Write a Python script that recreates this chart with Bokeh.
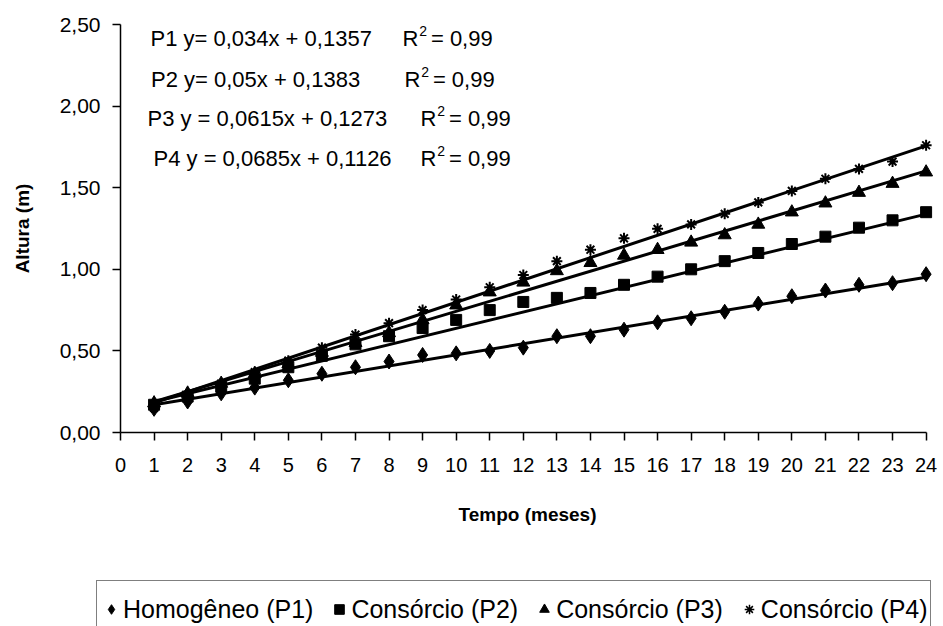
from bokeh.plotting import figure
from bokeh.layouts import column
from bokeh.models import Range1d, FixedTicker, Legend, LegendItem
from bokeh.core.properties import value
from bokeh.embed import file_html
from bokeh.resources import INLINE

# ---------------- data ----------------
months = list(range(1, 25))
p1_homogeneo = [0.145, 0.19, 0.24, 0.275, 0.32, 0.36, 0.40, 0.435, 0.475, 0.485, 0.50, 0.52,
                0.59, 0.59, 0.63, 0.675, 0.70, 0.74, 0.79, 0.835, 0.87, 0.905, 0.915, 0.97]
p2_consorcio = [0.17, 0.22, 0.28, 0.33, 0.40, 0.47, 0.54, 0.59, 0.64, 0.69, 0.75, 0.80,
                0.825, 0.855, 0.905, 0.955, 1.00, 1.05, 1.10, 1.155, 1.20, 1.255, 1.30, 1.35]
p3_consorcio = [0.18, 0.24, 0.30, 0.36, 0.42, 0.49, 0.55, 0.61, 0.69, 0.78, 0.86, 0.92,
                0.99, 1.04, 1.085, 1.12, 1.165, 1.21, 1.275, 1.35, 1.405, 1.47, 1.525, 1.595]
p4_consorcio = [0.15, 0.23, 0.30, 0.37, 0.44, 0.52, 0.60, 0.67, 0.75, 0.815, 0.89, 0.965,
                1.05, 1.12, 1.19, 1.248, 1.275, 1.34, 1.41, 1.48, 1.555, 1.615, 1.66, 1.76]

series_names = ["Homogêneo (P1)", "Consórcio (P2)", "Consórcio (P3)", "Consórcio (P4)"]
series_markers = ["diamond", "square", "triangle", "asterisk"]
trend_slopes = [0.034, 0.05, 0.0615, 0.0685]
trend_intercepts = [0.1357, 0.1383, 0.1273, 0.1126]
equation_fits = ["P1 y= 0,034x + 0,1357", "P2 y= 0,05x + 0,1383",
                 "P3 y = 0,0615x + 0,1273", "P4 y = 0,0685x + 0,1126"]
r2_values = ["= 0,99", "= 0,99", "= 0,99", "= 0,99"]
x_ticks = list(range(0, 25))
y_ticks = [0.0, 0.5, 1.0, 1.5, 2.0, 2.5]
y_tick_labels = ["0,00", "0,50", "1,00", "1,50", "2,00", "2,50"]

# ---------------- main figure ----------------
FONT = "Liberation Sans"
W = 940
p = figure(width=W, height=575, x_range=Range1d(0, 24.25), y_range=Range1d(0, 2.5),
           output_backend="svg", toolbar_location=None,
           min_border_left=120, min_border_right=6, min_border_top=24, min_border_bottom=143)
p.outline_line_color = None
p.xgrid.visible = False
p.ygrid.visible = False
p.background_fill_color = "white"
p.border_fill_color = "white"

for ax in (p.xaxis[0], p.yaxis[0]):
    ax.axis_line_color = "black"
    ax.axis_line_width = 1.5
    ax.major_tick_line_color = "black"
    ax.major_tick_line_width = 1.5
    ax.minor_tick_line_color = None
    ax.major_tick_in = 0
    ax.major_tick_out = 8
    ax.major_label_text_font = FONT
    ax.major_label_text_color = "black"
    ax.axis_label_text_font = FONT
    ax.axis_label_text_font_size = "19px"
    ax.axis_label_text_font_style = "bold"
    ax.axis_label_text_color = "black"

p.xaxis.ticker = FixedTicker(ticks=x_ticks)
p.xaxis.bounds = (0, 24)
p.xaxis.axis_label = "Tempo (meses)"
p.xaxis.major_label_text_font_size = "20px"
p.xaxis.major_label_standoff = 17
p.xaxis.axis_label_standoff = 29

p.yaxis.ticker = FixedTicker(ticks=y_ticks)
p.yaxis.major_label_overrides = {t: l for t, l in zip(y_ticks, y_tick_labels)}
p.yaxis.major_label_text_font_size = "21px"
p.yaxis.axis_label = "Altura (m)"
p.yaxis.major_label_standoff = 12
p.yaxis.axis_label_standoff = 24

# trend lines
x0, x1 = months[0], months[-1]
for s, b in zip(trend_slopes, trend_intercepts):
    p.line([x0, x1], [s * x0 + b, s * x1 + b], line_color="black", line_width=3)

# markers
p.scatter(months, p1_homogeneo, marker="diamond", size=15, color="black")
p.scatter(months, p2_consorcio, marker="square", size=11, color="black")
p.scatter(months, p3_consorcio, marker="triangle", size=13, color="black")
p.scatter(months, p4_consorcio, marker="asterisk", size=11, line_color="black", line_width=2)

# regression equations (positions in data units)
eq_x = [0.893, 0.908, 0.804, 0.983]
eq_y = [2.414, 2.163, 1.924, 1.679]
r_x = [8.398, 8.457, 8.934, 8.934]
sup_dx = 0.50
val_dx = 0.85
sup_dy = 0.045
txt = dict(text_font=value(FONT), text_baseline="middle", text_align="left", text_color="black")
p.text(x=eq_x, y=eq_y, text=equation_fits, text_font_size="22px", **txt)
p.text(x=r_x, y=eq_y, text=["R"] * 4, text_font_size="22px", **txt)
p.text(x=[v + sup_dx for v in r_x], y=[v + sup_dy for v in eq_y], text=["2"] * 4,
       text_font_size="14px", **txt)
p.text(x=[v + val_dx for v in r_x], y=eq_y, text=r2_values, text_font_size="22px", **txt)

# ---------------- legend strip ----------------
lg = figure(width=W, height=51, x_range=Range1d(0, 1), y_range=Range1d(0, 1),
            output_backend="svg", toolbar_location=None,
            min_border_left=0, min_border_right=0, min_border_top=0, min_border_bottom=0)
if "frame_align" in lg.properties():
    lg.frame_align = False
if "frame_align" in p.properties():
    p.frame_align = False
lg.axis.visible = False
lg.grid.visible = False
lg.outline_line_color = None
lg.border_fill_color = "white"
items = []
for name, mk in zip(series_names, series_markers):
    # a single off-range point so that the legend can draw the marker
    if mk == "asterisk":
        r = lg.scatter([-5], [-5], marker=mk, size=8, line_color="black", line_width=1.5)
    else:
        r = lg.scatter([-5], [-5], marker=mk, size=8, color="black")
    items.append(LegendItem(label=name, renderers=[r]))
legend = Legend(items=items, orientation="horizontal", location=(96, -12),
                label_text_font=FONT, label_text_font_size="25px", label_text_color="black",
                border_line_color="black", border_line_width=1.5,
                padding=2, spacing=14, label_standoff=0, glyph_width=24, glyph_height=52,
                label_height=52, margin=0, background_fill_color="white", background_fill_alpha=1)
lg.add_layout(legend, "center")

layout = column(p, lg, spacing=0)
open("out.html", "w").write(file_html(layout, INLINE))
